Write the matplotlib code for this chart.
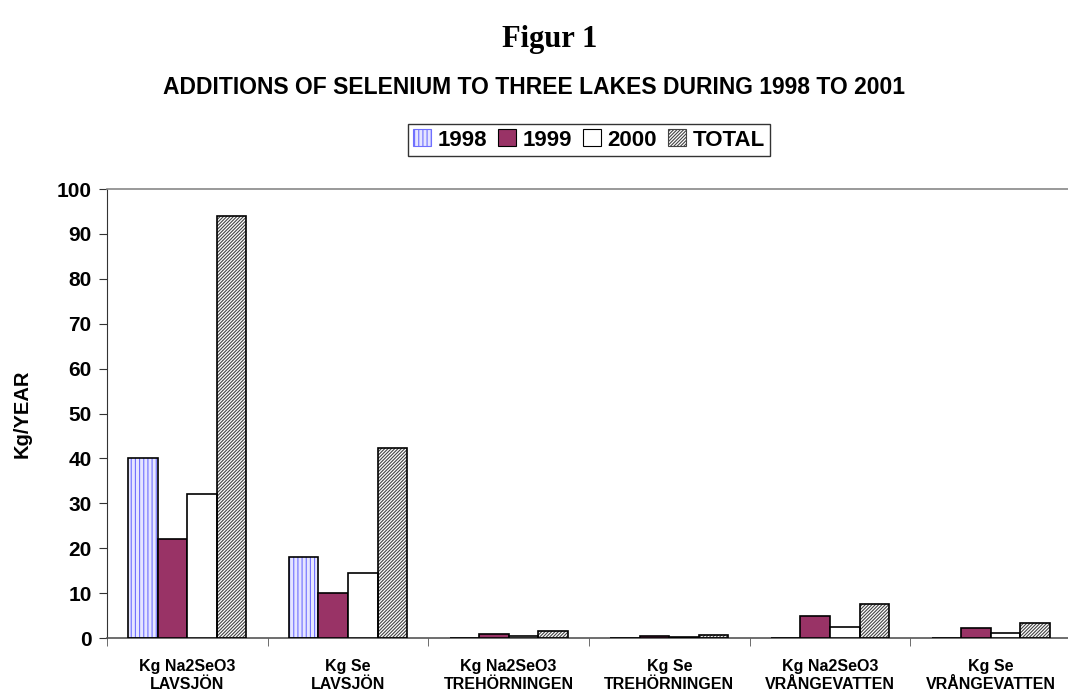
import matplotlib
matplotlib.use("Agg")
import matplotlib.pyplot as plt
from matplotlib.patches import Patch
import numpy as np

plt.rcParams['font.family'] = ['Liberation Sans', 'DejaVu Sans']
plt.rcParams['hatch.linewidth'] = 0.8

categories = ["Kg Na2SeO3\nLAVSJÖN", "Kg Se\nLAVSJÖN", "Kg Na2SeO3\nTREHÖRNINGEN",
              "Kg Se\nTREHÖRNINGEN", "Kg Na2SeO3\nVRÅNGEVATTEN", "Kg Se\nVRÅNGEVATTEN"]
series_names = ["1998", "1999", "2000", "TOTAL"]
v1998 = [40, 18, 0, 0, 0, 0]
v1999 = [22, 10, 1.0, 0.45, 5.0, 2.3]
v2000 = [32, 14.4, 0.5, 0.2, 2.5, 1.1]
vtotal = [94, 42.4, 1.5, 0.65, 7.5, 3.4]
yticks = [0, 10, 20, 30, 40, 50, 60, 70, 80, 90, 100]

fig = plt.figure(figsize=(10.68, 6.97), dpi=100)
ax = fig.add_axes([107/1068, 1-638/697, 964/1068, (638-189)/697])

x = np.arange(len(categories))
w = 0.184
offs = [-1.5*w, -0.5*w, 0.5*w, 1.5*w]

# 1998: blue vertical lines on white
ax.bar(x+offs[0], v1998, w, color='#e6e6ff', edgecolor='#6f6fff', hatch='||||', linewidth=0, zorder=2)
ax.bar(x+offs[0], v1998, w, color='none', edgecolor='black', linewidth=1.2, zorder=3)
# 1999
ax.bar(x+offs[1], v1999, w, color='#993366', edgecolor='black', linewidth=1.2, zorder=3)
# 2000
ax.bar(x+offs[2], v2000, w, color='white', edgecolor='black', linewidth=1.2, zorder=3)
# TOTAL
ax.bar(x+offs[3], vtotal, w, color='white', edgecolor='#444444', hatch='//////////', linewidth=0, zorder=2)
ax.bar(x+offs[3], vtotal, w, color='none', edgecolor='black', linewidth=1.2, zorder=3)

ax.set_xlim(-0.5, len(categories)-0.5)
ax.set_ylim(0, 100)
ax.set_yticks(yticks)
ax.set_yticklabels([str(t) for t in yticks], fontsize=15, fontweight='bold')
ax.set_xticks(x)
ax.set_xticklabels(categories, fontsize=11.5, fontweight='bold', linespacing=1.3)
ax.tick_params(axis='x', length=0, pad=15)
ax.set_xticks(np.arange(len(categories)+1)-0.5, minor=True)
ax.tick_params(axis='x', which='minor', length=6, color='#555555', direction='out')
ax.tick_params(axis='y', length=6, color='#333333', direction='out', pad=5)

ax.spines['right'].set_visible(False)
ax.spines['top'].set_color('#888888')
ax.spines['top'].set_linewidth(1.2)
ax.spines['left'].set_color('#333333')
ax.spines['bottom'].set_color('#555555')
ax.spines['bottom'].set_linewidth(1.2)

ax.set_ylabel("Kg/YEAR", fontsize=14.5, fontweight='bold', labelpad=18)

fig.text(550/1068, 1-39/697, "Figur 1", ha='center', va='center',
         fontsize=22, fontweight='bold', family=['Liberation Serif', 'DejaVu Serif'])
fig.text(534/1068, 1-88/697, "ADDITIONS OF SELENIUM TO THREE LAKES DURING 1998 TO 2001",
         ha='center', va='center', fontsize=16.5, fontweight='bold')

handles = [
    Patch(facecolor='#e6e6ff', edgecolor='#6f6fff', hatch='||||', linewidth=0.8),
    Patch(facecolor='#993366', edgecolor='black', linewidth=0.8),
    Patch(facecolor='white', edgecolor='black', linewidth=0.8),
    Patch(facecolor='white', edgecolor='#444444', hatch='//////////', linewidth=0.8),
]
leg = fig.legend(handles, series_names, loc='center', bbox_to_anchor=(589/1068, 1-140/697),
                 ncol=4, frameon=True, fancybox=False, edgecolor='black',
                 prop={'size': 16, 'weight': 'bold'}, handlelength=0.8, handleheight=0.8,
                 handletextpad=0.3, columnspacing=0.5, borderpad=0.25, borderaxespad=0)
leg.get_frame().set_linewidth(1.0)

fig.savefig("out.png", dpi=100)
